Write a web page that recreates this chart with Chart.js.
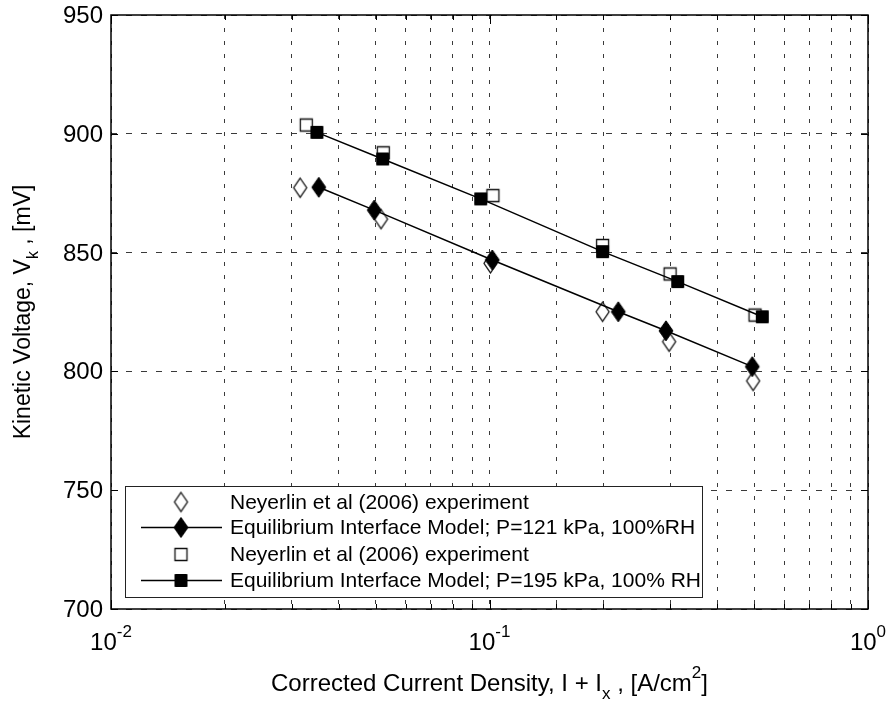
<!DOCTYPE html>
<html>
<head>
<meta charset="utf-8">
<script src="https://cdn.jsdelivr.net/npm/chart.js@4.4.1/dist/chart.umd.min.js"></script>
<style>
  html, body { margin: 0; padding: 0; background: #ffffff; }
  #wrap { width: 888px; height: 708px; }
</style>
</head>
<body>
<div id="wrap"><canvas id="c" width="888" height="708"></canvas></div>
<script>
// ---------------- data ----------------
const openDiamondX = [0.0316, 0.0517, 0.1006, 0.199, 0.2982, 0.497];
const openDiamondY = [877.3, 864.1, 845.5, 825.1, 812.5, 796.0];
const modelAX = [0.0354, 0.0496, 0.1017, 0.2189, 0.2926, 0.4947];
const modelAY = [877.5, 867.9, 846.9, 825.1, 817.1, 802.0];
const openSquareX = [0.0328, 0.0524, 0.1021, 0.199, 0.300, 0.503];
const openSquareY = [903.7, 892.0, 874.0, 853.0, 841.0, 823.7];
const modelBX = [0.0350, 0.0522, 0.0948, 0.199, 0.3142, 0.5256];
const modelBY = [900.6, 889.4, 872.6, 850.4, 837.8, 823.0];

const yTicks = [700, 750, 800, 850, 900, 950];
const xMajorTicks = [0.01, 0.1, 1];
const xMajorExponents = ['-2', '-1', '0'];
const legendLabels = [
  'Neyerlin et al (2006) experiment',
  'Equilibrium Interface Model; P=121 kPa, 100%RH',
  'Neyerlin et al (2006) experiment',
  'Equilibrium Interface Model; P=195 kPa, 100% RH'
];
const yTitleRuns = [['Kinetic Voltage, V', 'n'], ['k', 'sub'], [' , [mV]', 'n']];
const xTitleRuns = [['Corrected Current Density, I + I', 'n'], ['x', 'sub'], [' , [A/cm', 'n'], ['2', 'sup'], [']', 'n']];

const pts = (xs, ys) => xs.map((x, i) => ({ x: x, y: ys[i] }));

// ---------------- marker images ----------------
function makeMarker(shape, filled, w, h) {
  const pad = 2;
  const cv = document.createElement('canvas');
  cv.width = w + pad * 2; cv.height = h + pad * 2;
  const g = cv.getContext('2d');
  g.beginPath();
  if (shape === 'diamond') {
    const cx = cv.width / 2, cy = cv.height / 2;
    g.moveTo(cx, cy - h / 2);
    g.lineTo(cx + w / 2, cy);
    g.lineTo(cx, cy + h / 2);
    g.lineTo(cx - w / 2, cy);
    g.closePath();
  } else {
    g.rect(pad + 0.5, pad + 0.5, w - 1, h - 1);
  }
  if (filled) {
    g.fillStyle = '#000'; g.fill();
    g.lineWidth = 1; g.strokeStyle = '#000'; g.stroke();
  } else {
    g.fillStyle = '#fff'; g.fill();
    g.lineWidth = 1.3; g.strokeStyle = '#111'; g.stroke();
  }
  return cv;
}
const mkOpenDiamond = makeMarker('diamond', false, 13, 19);
const mkFillDiamond = makeMarker('diamond', true, 14, 20);
const mkOpenSquare = makeMarker('square', false, 13, 13);
const mkFillSquare = makeMarker('square', true, 13, 13);
const legendMarkers = [mkOpenDiamond, mkFillDiamond, mkOpenSquare, mkFillSquare];
const legendHasLine = [false, true, false, true];

const FONT = '"Liberation Sans", Arial, Helvetica, sans-serif';

function runsWidth(ctx, runs, size) {
  let w = 0;
  runs.forEach(r => {
    ctx.font = (r[1] === 'n' ? size : Math.round(size * 0.7)) + 'px ' + FONT;
    w += ctx.measureText(r[0]).width;
  });
  return w;
}
function drawRuns(ctx, runs, size, xStart, yMid) {
  let x = xStart;
  ctx.textBaseline = 'middle';
  ctx.textAlign = 'left';
  runs.forEach(r => {
    const small = r[1] !== 'n';
    ctx.font = (small ? Math.round(size * 0.7) : size) + 'px ' + FONT;
    let dy = 0;
    if (r[1] === 'sub') dy = size * 0.42;
    if (r[1] === 'sup') dy = -size * 0.45;
    ctx.fillText(r[0], x, yMid + dy);
    x += ctx.measureText(r[0]).width;
  });
}

// ---------------- decorations plugin ----------------
const deco = {
  id: 'deco',
  afterDatasetsDraw(chart) {
    const ctx = chart.ctx;
    const a = chart.chartArea;
    const xs = chart.scales.x, ys = chart.scales.y;
    ctx.save();
    ctx.fillStyle = '#000';
    ctx.strokeStyle = '#000';

    // legend box
    const lx = 125.5, ly = 486.5, lw = 577, lh = 111;
    ctx.fillStyle = '#fff';
    ctx.fillRect(lx, ly, lw, lh);
    ctx.lineWidth = 1;
    ctx.strokeStyle = '#222';
    ctx.strokeRect(lx, ly, lw, lh);
    const rowY = [502, 527.5, 554.5, 580.5];
    legendLabels.forEach((lab, i) => {
      const y = rowY[i];
      if (legendHasLine[i]) {
        ctx.beginPath();
        ctx.lineWidth = 1.5;
        ctx.strokeStyle = '#000';
        ctx.moveTo(141, y); ctx.lineTo(222, y);
        ctx.stroke();
      }
      const m = legendMarkers[i];
      ctx.drawImage(m, 181 - m.width / 2, y - m.height / 2);
      ctx.fillStyle = '#000';
      ctx.font = '21px ' + FONT;
      ctx.textBaseline = 'middle';
      ctx.textAlign = 'left';
      ctx.fillText(lab, 230, y + 1);
    });

    // frame
    ctx.lineWidth = 1.5;
    ctx.strokeStyle = '#000';
    ctx.strokeRect(a.left, a.top, a.right - a.left, a.bottom - a.top);

    // y ticks + labels
    ctx.lineWidth = 1;
    ctx.font = '24px ' + FONT;
    ctx.textAlign = 'right';
    ctx.textBaseline = 'middle';
    yTicks.forEach(v => {
      const y = Math.round(ys.getPixelForValue(v)) + 0.5;
      ctx.beginPath();
      ctx.moveTo(a.left, y); ctx.lineTo(a.left + 7, y);
      ctx.moveTo(a.right, y); ctx.lineTo(a.right - 7, y);
      ctx.stroke();
      ctx.fillStyle = '#000';
      ctx.fillText(String(v), a.left - 8, y + 1);
    });

    // x ticks (major and minor)
    xs.ticks.forEach(t => {
      const x = Math.round(xs.getPixelForValue(t.value)) + 0.5;
      const isMajor = xMajorTicks.some(m => Math.abs(Math.log10(m) - Math.log10(t.value)) < 1e-6);
      const len = isMajor ? 9 : 5;
      ctx.beginPath();
      ctx.moveTo(x, a.bottom); ctx.lineTo(x, a.bottom - len);
      ctx.moveTo(x, a.top); ctx.lineTo(x, a.top + len);
      ctx.stroke();
    });
    xMajorTicks.forEach((v, i) => {
      const runs = [['10', 'n'], [xMajorExponents[i], 'sup']];
      const w = runsWidth(ctx, runs, 24);
      const x = xs.getPixelForValue(v);
      ctx.fillStyle = '#000';
      drawRuns(ctx, runs, 24, x - w / 2, 643);
    });

    // axis titles
    const tw = runsWidth(ctx, xTitleRuns, 24);
    drawRuns(ctx, xTitleRuns, 24, (a.left + a.right) / 2 - tw / 2, 684);

    ctx.save();
    ctx.translate(24, (a.top + a.bottom) / 2);
    ctx.rotate(-Math.PI / 2);
    const yw = runsWidth(ctx, yTitleRuns, 23);
    drawRuns(ctx, yTitleRuns, 23, -yw / 2, 0);
    ctx.restore();

    ctx.restore();
  }
};

const gridCommon = { color: '#3a3a3a', lineWidth: 1, drawTicks: false };

new Chart(document.getElementById('c'), {
  type: 'scatter',
  data: {
    datasets: [
      {
        label: legendLabels[0], data: pts(openDiamondX, openDiamondY),
        pointStyle: mkOpenDiamond, showLine: false, order: 2
      },
      {
        label: legendLabels[1], data: pts(modelAX, modelAY),
        pointStyle: mkFillDiamond, showLine: true, borderColor: '#000', borderWidth: 1.5,
        backgroundColor: '#000', order: 1
      },
      {
        label: legendLabels[2], data: pts(openSquareX, openSquareY),
        pointStyle: mkOpenSquare, showLine: false, order: 2
      },
      {
        label: legendLabels[3], data: pts(modelBX, modelBY),
        pointStyle: mkFillSquare, showLine: true, borderColor: '#000', borderWidth: 1.5,
        backgroundColor: '#000', order: 1
      }
    ]
  },
  options: {
    responsive: false,
    animation: false,
    devicePixelRatio: 1,
    layout: { padding: { left: 111, right: 20, top: 15, bottom: 99 } },
    plugins: { legend: { display: false }, tooltip: { enabled: false } },
    elements: { line: { tension: 0 } },
    scales: {
      x: {
        type: 'logarithmic', min: 0.01, max: 1,
        grid: gridCommon,
        border: { display: false, dash: [4, 9] },
        ticks: { display: false },
        afterFit: s => { s.height = 0; }
      },
      y: {
        type: 'linear', min: 700, max: 950,
        ticks: { display: false, stepSize: 50 },
        grid: gridCommon,
        border: { display: false, dash: [6, 9] },
        afterFit: s => { s.width = 0; }
      }
    }
  },
  plugins: [deco]
});
</script>
</body>
</html>
